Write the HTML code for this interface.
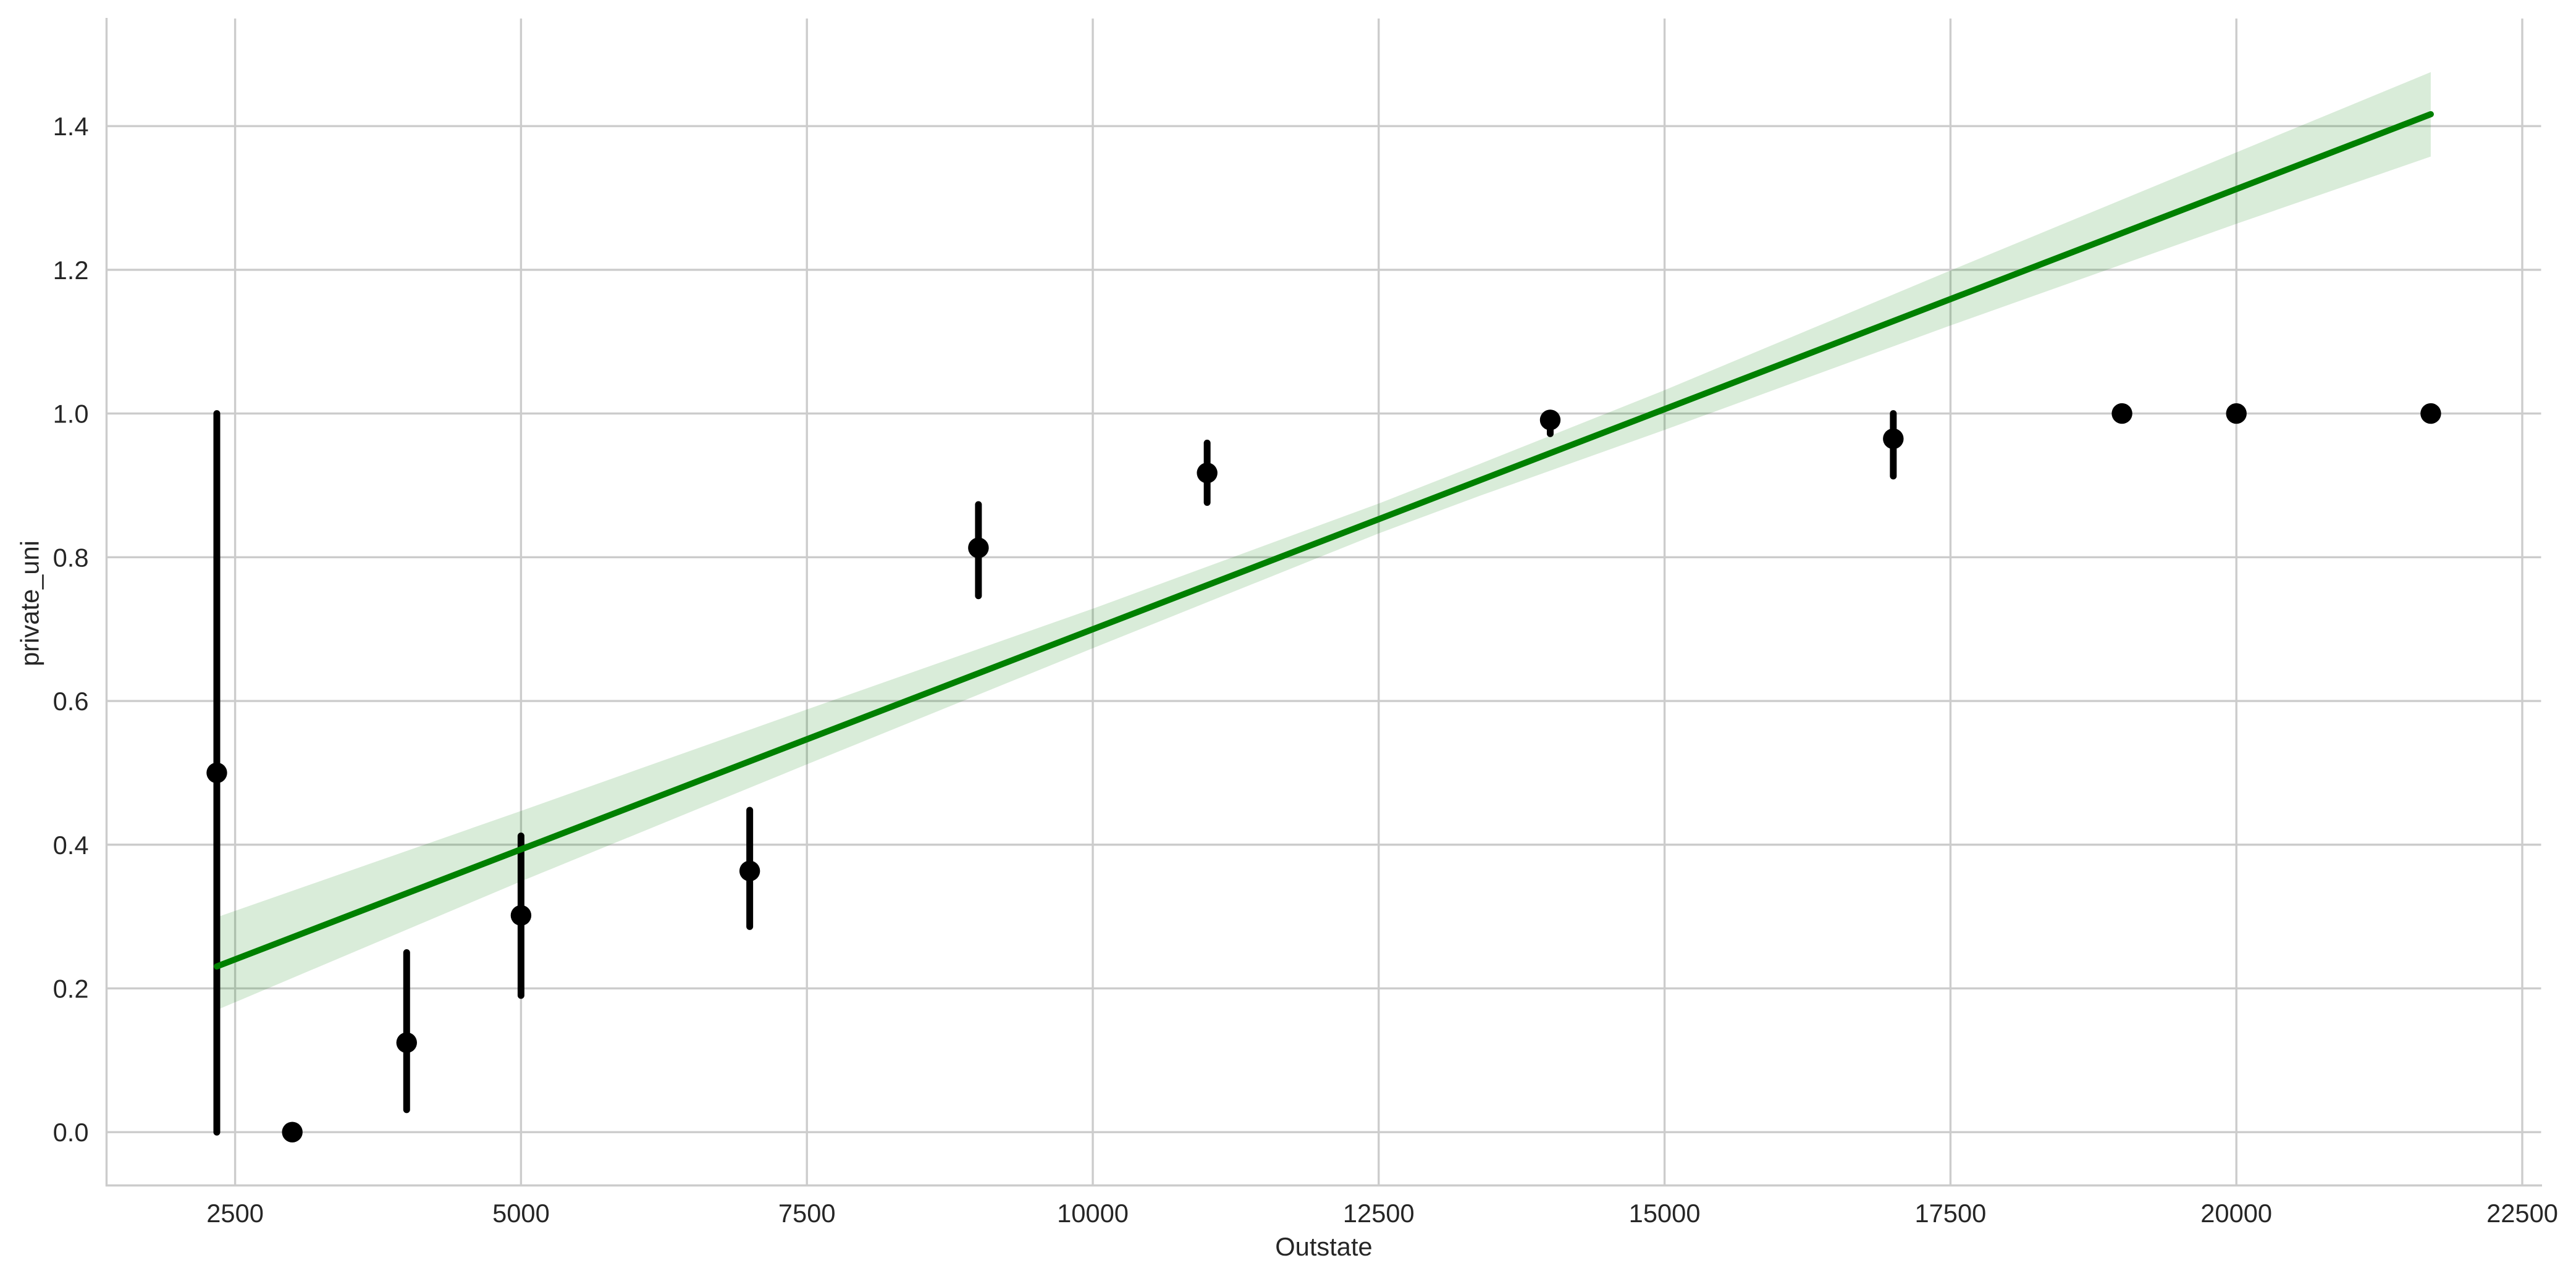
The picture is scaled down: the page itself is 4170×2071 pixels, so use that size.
<!DOCTYPE html>
<html lang="en">
<head>
<meta charset="utf-8">
<title>private_uni vs Outstate</title>
<style>
html,body{margin:0;padding:0;background:#fff;}
svg{display:block;}
text{font-family:"Liberation Sans",Arial,sans-serif;fill:#262626;font-size:41.67px;text-rendering:geometricPrecision;}
</style>
</head>
<body>
<svg id="chart" xmlns="http://www.w3.org/2000/svg" width="4170" height="2071" viewBox="0 0 4170 2071"></svg>
<script>
const xTicks = [2500, 5000, 7500, 10000, 12500, 15000, 17500, 20000, 22500];
const xTickLabels = ["2500", "5000", "7500", "10000", "12500", "15000", "17500", "20000", "22500"];
const yTicks = [0, 0.2, 0.4, 0.6, 0.8, 1.0, 1.2, 1.4];
const yTickLabels = ["0.0", "0.2", "0.4", "0.6", "0.8", "1.0", "1.2", "1.4"];

const binOutstate = [2340, 3000, 4000, 5000, 7000, 9000, 11000, 14000, 17000, 19000, 20000, 21700];
const binMean = [0.5, 0, 0.1245, 0.3016, 0.3634, 0.8131, 0.9173, 0.9911, 0.9649, 1, 1, 1];
const binLow = [0, 0, 0.0312, 0.1902, 0.286, 0.7464, 0.8762, 0.9719, 0.913, 1, 1, 1];
const binHigh = [1, 0, 0.2498, 0.4121, 0.4479, 0.8733, 0.9589, 1, 1, 1, 1, 1];

const fitOutstate = [2340, 21700];
const fitValue = [0.2306, 1.4165];

const bandOutstate = [2340, 5000, 7500, 10000, 12500, 13400, 15000, 17500, 20000, 21700];
const bandUpper = [0.299, 0.447, 0.5882, 0.7284, 0.8747, 0.9309, 1.0325, 1.199, 1.3634, 1.4751];
const bandLower = [0.17, 0.349, 0.5118, 0.6734, 0.8332, 0.8864, 0.9772, 1.1225, 1.264, 1.3576];

const svg = document.getElementById('chart');
const NS = 'http://www.w3.org/2000/svg';
const xScale = v => 380.6 + (v - 2500) * 0.18512;
const yScale = v => 1833.2 - v * 1163.6;
const plotLeft = 172.5, plotRight = 4113.5, plotTop = 30, plotBottom = 1919.5;

function mk(tag, attrs) {
  const el = document.createElementNS(NS, tag);
  for (const k in attrs) el.setAttribute(k, attrs[k]);
  svg.appendChild(el);
  return el;
}

// Gridlines
xTicks.forEach(t => {
  const el = mk('line', {x1: xScale(t), x2: xScale(t), y1: plotTop, y2: plotBottom, stroke: '#cccccc', 'stroke-width': 3.4});
  
  
});
yTicks.forEach(t => {
  const el = mk('line', {x1: plotLeft, x2: plotRight, y1: yScale(t), y2: yScale(t), stroke: '#cccccc', 'stroke-width': 3.4});
  
  
});

// Spines
const leftSpine = mk('line', {x1: plotLeft, x2: plotLeft, y1: 29, y2: 1921, stroke: '#cccccc', 'stroke-width': 3.4});


const bottomSpine = mk('line', {x1: 171, x2: 4115, y1: plotBottom, y2: plotBottom, stroke: '#cccccc', 'stroke-width': 3.4});



// Confidence band
const upperPts = bandOutstate.map((x, i) => xScale(x) + ',' + yScale(bandUpper[i]));
const lowerPts = bandOutstate.map((x, i) => xScale(x) + ',' + yScale(bandLower[i])).reverse();
const band = mk('polygon', {points: upperPts.concat(lowerPts).join(' '), fill: '#008000', 'fill-opacity': 0.15});



// Binned points with error bars
binOutstate.forEach((x, i) => {
  if (binHigh[i] > binLow[i]) {
    const bar = mk('line', {x1: xScale(x), x2: xScale(x), y1: yScale(binLow[i]), y2: yScale(binHigh[i]), stroke: '#000', 'stroke-width': 11, 'stroke-linecap': 'round'});
    
    
  }
  const dot = mk('circle', {cx: xScale(x), cy: yScale(binMean[i]), r: 16.7, fill: '#000'});
  
  
});

// Regression line
const fitLine = mk('polyline', {points: fitOutstate.map((x, i) => xScale(x) + ',' + yScale(fitValue[i])).join(' '), fill: 'none', stroke: '#008000', 'stroke-width': 10, 'stroke-linecap': 'round'});



// Tick labels
xTicks.forEach((t, i) => {
  const el = mk('text', {x: xScale(t), y: 1979, 'text-anchor': 'middle'});
  el.textContent = xTickLabels[i];
  
  
});
yTicks.forEach((t, i) => {
  const el = mk('text', {x: 143.5, y: yScale(t) + 15, 'text-anchor': 'end'});
  el.textContent = yTickLabels[i];
  
  
});

// Axis titles
const xTitle = mk('text', {x: 2143, y: 2033, 'text-anchor': 'middle'});
xTitle.textContent = 'Outstate';


const yTitle = mk('text', {x: 0, y: 0, 'text-anchor': 'middle', transform: 'translate(62.3 977) rotate(-90)'});
yTitle.textContent = 'private_uni';


</script>
</body>
</html>
